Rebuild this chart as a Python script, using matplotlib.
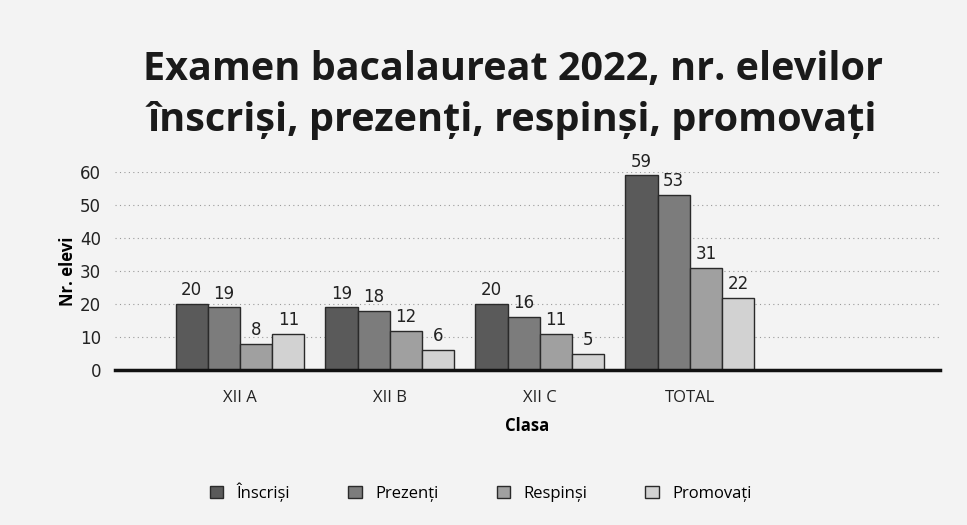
import matplotlib.pyplot as plt
import numpy as np

# Data
clase = ["XII A", "XII B", "XII C", "TOTAL"]
serii = ["Înscriși", "Prezenți", "Respinși", "Promovați"]
inscrisi = [20, 19, 20, 59]
prezenti = [19, 18, 16, 53]
respinsi = [8, 12, 11, 31]
promovati = [11, 6, 5, 22]

valori = [inscrisi, prezenti, respinsi, promovati]
culori = ["#5a5a5a", "#7c7c7c", "#a0a0a0", "#d2d2d2"]

fig = plt.figure(figsize=(9.67, 5.25), dpi=100, facecolor="#f3f3f3")
ax = fig.add_axes([0.119, 0.295, 0.853, 0.377])
ax.set_facecolor("#f3f3f3")

x = np.arange(len(clase))
w = 0.215
for k, (vals, col, nume) in enumerate(zip(valori, culori, serii)):
    pos = x + (k - 1.5) * w
    ax.bar(pos, vals, width=w, color=col, edgecolor="#2a2a2a",
           linewidth=1.0, label=nume)
    for p, v in zip(pos, vals):
        ax.text(p, v + 1.5, str(v), ha="center", va="bottom",
                fontsize=12, color="#222222", family="DejaVu Sans")

ax.set_ylim(0, 60)
ax.set_xlim(-0.833, 4.667)
ax.set_yticks(range(0, 61, 10))
ax.tick_params(axis="y", length=0, pad=10, labelsize=12, colors="#222222")
ax.tick_params(axis="x", length=0, pad=14, labelsize=12, colors="#222222")
ax.set_xticks(x)
ax.set_xticklabels(clase, family="Open Sans")
ax.yaxis.grid(True, linestyle=(0, (1, 3)), color="#9a9a9a", linewidth=0.8)
ax.set_axisbelow(True)
for s in ["top", "right", "left"]:
    ax.spines[s].set_visible(False)
ax.spines["bottom"].set_linewidth(2.5)
ax.spines["bottom"].set_color("#111111")

ax.set_ylabel("Nr. elevi", fontsize=12, fontweight="bold", family="Open Sans",
              labelpad=2)
ax.set_xlabel("Clasa", fontsize=12, fontweight="bold", family="Open Sans",
              labelpad=8)

fig.text(0.53, 0.868, "Examen bacalaureat 2022, nr. elevilor",
         ha="center", va="center", fontsize=28.5, fontweight="bold",
         family="Open Sans", color="#1a1a1a")
fig.text(0.53, 0.77, "înscriși, prezenți, respinși, promovați",
         ha="center", va="center", fontsize=28.5, fontweight="bold",
         family="Open Sans", color="#1a1a1a")

fig.legend(loc="center", bbox_to_anchor=(0.497, 0.063), ncol=4, frameon=False,
           prop={"family": "Open Sans", "size": 12}, handlelength=0.8,
           handleheight=0.8, columnspacing=3.5, handletextpad=0.8)

fig.savefig("out.png", dpi=100, facecolor=fig.get_facecolor())
